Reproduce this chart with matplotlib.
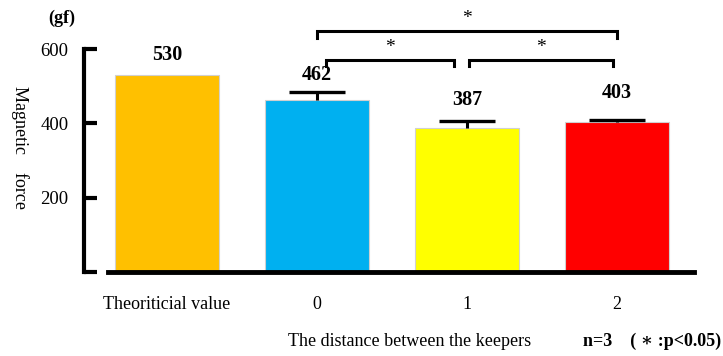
import numpy as np
import matplotlib
matplotlib.use('Agg')
import matplotlib.pyplot as plt

plt.rcParams['font.family'] = ['Liberation Serif', 'DejaVu Serif']

# data
categories = ['Theoriticial value', '0', '1', '2']
forces = [530, 462, 387, 403]
errors = [0, 21, 20, 7]
colors = ['#FFC000', '#00B0F0', '#FFFF00', '#FF0000']
label_y = [584, 530, 463, 482]
yticks = [0, 200, 400, 600]
ytick_labels = ['', '200', '400', '600']
# significance brackets: (left, right, level, drop)
brackets = [(1.0, 3.0, 649, 630), (1.06, 1.91, 571, 554), (2.01, 2.97, 571, 554)]

fig = plt.figure(figsize=(7.23, 3.56), dpi=100)
W, H = 723, 356
ax = fig.add_axes([84 / W, (H - 272) / H, (694 - 84) / W, (272 - 49) / H])

x = np.arange(len(categories))
ax.bar(x, forces, width=0.69, color=colors, edgecolor='#d0d0d0', linewidth=0.8, zorder=2)
eb = ax.errorbar(x[1:], forces[1:], yerr=[np.zeros(3), errors[1:]], fmt='none',
                 ecolor='black', elinewidth=2.2, capsize=20, capthick=2.4, zorder=3)
# one-sided bars: hide the lower caps
eb[1][0].set_visible(False)

for xi, v, ly in zip(x, forces, label_y):
    ax.text(xi, ly, str(v), ha='center', va='center', fontsize=14.5, fontweight='bold')

for l, r, top, low in brackets:
    ax.plot([l, l, r, r], [low, top, top, low], color='black', lw=2.2,
            clip_on=False, solid_joinstyle='miter')
    ax.text((l + r) / 2, top + 33, '*', ha='center', va='center', fontsize=14)

ax.set_xlim(-0.553, 3.513)
ax.set_ylim(0, 600)
ax.set_yticks(yticks)
ax.set_yticklabels(ytick_labels, fontsize=13.5)
ax.set_xticks(x)
ax.set_xticklabels(categories, fontsize=13)
ax.tick_params(axis='y', direction='in', length=9, width=3, pad=11)
ax.tick_params(axis='x', length=0, pad=17)

for s in ['top', 'right', 'bottom']:
    ax.spines[s].set_visible(False)
ax.spines['left'].set_linewidth(3)
ax.plot([-0.393, 3.513], [0, 0], color='black', lw=3.5, clip_on=False, zorder=4)

fig.text(20 / W, 1 - 148 / H, 'Magnetic    force', rotation=270, ha='center',
         va='center', fontsize=13)
fig.text(62 / W, 1 - 18 / H, '(gf)', ha='center', va='center', fontsize=13,
         fontweight='bold')
fig.text(410 / W, 1 - 341 / H, 'The distance between the keepers', ha='center',
         va='center', fontsize=13)
fig.text(583 / W, 1 - 341 / H, 'n=3    ( \u2217 :p<0.05)', ha='left', va='center',
         fontsize=13, fontweight='bold')

fig.savefig('out.png', dpi=100)
